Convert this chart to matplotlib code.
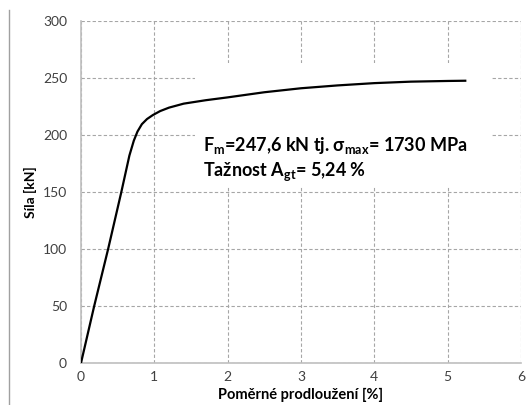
import matplotlib
matplotlib.use("Agg")
import matplotlib.pyplot as plt
from matplotlib.lines import Line2D
from matplotlib.patches import Rectangle

# Data
strain = [0, 0.18, 0.37, 0.55, 0.66, 0.72, 0.77, 0.83, 0.90, 0.98, 1.08, 1.2, 1.4, 1.7,
          2.0, 2.5, 3.0, 3.5, 4.0, 4.5, 5.0, 5.24]
force = [0, 50, 100, 150, 182, 195, 203, 209.5, 214, 217.5, 221, 224, 227.5, 230.5,
         233, 237.5, 241, 243.5, 245.5, 246.8, 247.4, 247.6]
xticks = [0, 1, 2, 3, 4, 5, 6]
yticks = [0, 50, 100, 150, 200, 250, 300]
line1 = "F$_\\mathrm{m}$=247,6 kN tj. σ$_\\mathrm{max}$= 1730 MPa"
line2 = "Tažnost A$_\\mathrm{gt}$= 5,24 %"

plt.rcParams['font.family'] = ['Lato', 'DejaVu Sans']
plt.rcParams['mathtext.fontset'] = 'custom'
plt.rcParams['mathtext.rm'] = 'Lato:bold'
plt.rcParams['mathtext.it'] = 'Lato:bold'
plt.rcParams['mathtext.bf'] = 'Lato:bold'

fig = plt.figure(figsize=(5.32, 4.05), dpi=100)
ax = fig.add_axes([81/532, 1-363/405, 440/532, 342/405])

ax.plot(strain, force, color='black', lw=1.6, zorder=3)
ax.set_xlim(0, 6)
ax.set_ylim(0, 300)
ax.set_xticks(xticks)
ax.set_yticks(yticks)
ax.grid(True, color='#a6a6a6', linestyle=(0, (3, 2)), linewidth=0.8)
ax.set_axisbelow(True)
for s in ['top', 'right']:
    ax.spines[s].set_visible(False)
for s in ['left', 'bottom']:
    ax.spines[s].set_color('#bfbfbf')
    ax.spines[s].set_linewidth(1.2)
ax.tick_params(length=0, labelsize=10, labelcolor='#404040')
ax.tick_params(axis='y', pad=10)
ax.tick_params(axis='x', pad=6)
ax.set_xlabel("Poměrné prodloužení [%]", fontsize=10.5, fontweight='bold', labelpad=3)
ax.set_ylabel("Síla [kN]", fontsize=10, fontweight='bold', labelpad=4)

# white box behind the annotation
ax.add_patch(Rectangle((1.55, 155), 4.05, 108, facecolor='white', edgecolor='none', zorder=2))
ax.text(203/532, 1-145/405, line1, transform=fig.transFigure, fontsize=13, fontweight='bold',
        va='center', ha='left', zorder=4)
ax.text(203/532, 1-172/405, line2, transform=fig.transFigure, fontsize=13, fontweight='bold',
        va='center', ha='left', zorder=4)

fig.add_artist(Line2D([9/532, 9/532], [0, 1-10/405], transform=fig.transFigure,
                      color='#a0a0a0', lw=1))

fig.savefig("out.png", dpi=100)
